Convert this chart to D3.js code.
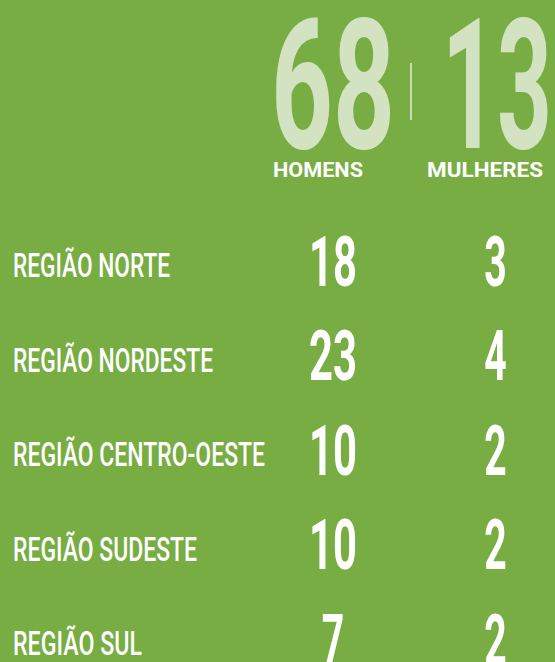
<!DOCTYPE html>
<html>
<head>
<meta charset="utf-8">
<script src="https://cdn.jsdelivr.net/npm/d3@7"></script>
<style>
  html, body { margin: 0; padding: 0; background: #77ad42; }
  svg { display: block; }
</style>
</head>
<body>
<svg></svg>
<script>
// Chart data
const regions = ["REGIÃO NORTE", "REGIÃO NORDESTE", "REGIÃO CENTRO-OESTE", "REGIÃO SUDESTE", "REGIÃO SUL"];
const homens = [18, 23, 10, 10, 7];
const mulheres = [3, 4, 2, 2, 2];
const totals = [68, 13];
const totalLabels = ["HOMENS", "MULHERES"];

const width = 555, height = 662;
const bg = "#77ad42", pale = "#d3e3c2";
const font = "Roboto, 'Liberation Sans', sans-serif";

const svg = d3.select("svg")
    .attr("width", width)
    .attr("height", height);

svg.append("rect")
    .attr("width", width)
    .attr("height", height)
    .attr("fill", bg);

// Row baselines
const y = d3.scalePoint()
    .domain(regions)
    .range([277, 655]);

// Column centers
const x = d3.scalePoint()
    .domain(["homens", "mulheres"])
    .range([333, 495.5]);

const digitW = 22.5;

// Header totals
svg.selectAll("text.total")
    .data(totals)
    .join("text")
    .attr("class", "total")
    .attr("x", (d, i) => [271, 442][i])
    .attr("y", 148)
    .attr("font-family", font)
    .attr("font-weight", 700)
    .attr("font-size", 181)
    .attr("fill", pale)
    .attr("textLength", (d, i) => [124, 110][i])
    .attr("lengthAdjust", "spacingAndGlyphs")
    .text(d => d);

svg.append("line")
    .attr("x1", 411).attr("x2", 411)
    .attr("y1", 63).attr("y2", 120)
    .attr("stroke", pale)
    .attr("stroke-width", 1.8);

svg.selectAll("text.totlab")
    .data(totalLabels)
    .join("text")
    .attr("class", "totlab")
    .attr("x", (d, i) => [273, 427][i])
    .attr("y", 177)
    .attr("font-family", font)
    .attr("font-weight", 700)
    .attr("font-size", 21)
    .attr("fill", "#fff")
    .attr("textLength", (d, i) => [90, 116][i])
    .attr("lengthAdjust", "spacingAndGlyphs")
    .text(d => d);

// Region labels
const labelWidths = [157, 200, 252, 184, 129];
svg.selectAll("text.region")
    .data(regions)
    .join("text")
    .attr("class", "region")
    .attr("x", 13)
    .attr("y", d => y(d))
    .attr("font-family", font)
    .attr("font-weight", 500)
    .attr("font-size", 33)
    .attr("fill", "#fff")
    .attr("textLength", (d, i) => labelWidths[i])
    .attr("lengthAdjust", "spacingAndGlyphs")
    .text(d => d);

// Values
const rows = regions.map((r, i) => ({ region: r, homens: homens[i], mulheres: mulheres[i] }));
["homens", "mulheres"].forEach(key => {
    svg.selectAll("text.v-" + key)
        .data(rows)
        .join("text")
        .attr("class", "v-" + key)
        .attr("x", x(key))
        .attr("y", d => y(d.region) + 8.5)
        .attr("text-anchor", "middle")
        .attr("font-family", font)
        .attr("font-weight", 700)
        .attr("font-size", 71)
        .attr("fill", "#fff")
        .attr("textLength", d => String(d[key]).length * digitW + (String(d[key]).length > 1 ? 3 : 0))
        .attr("lengthAdjust", "spacingAndGlyphs")
        .text(d => d[key]);
});
</script>
</body>
</html>
